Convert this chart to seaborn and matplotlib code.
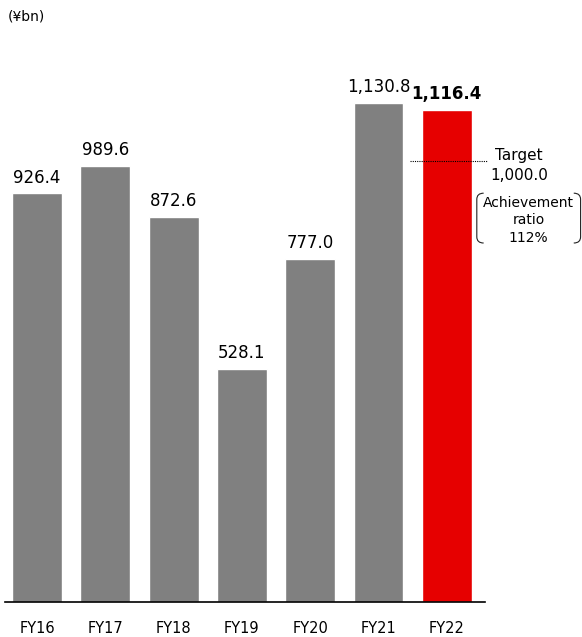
import matplotlib
matplotlib.use("Agg")
import matplotlib.pyplot as plt
from matplotlib.path import Path
from matplotlib.patches import PathPatch
import seaborn as sns

years = ["FY16", "FY17", "FY18", "FY19", "FY20", "FY21", "FY22"]
values = [926.4, 989.6, 872.6, 528.1, 777.0, 1130.8, 1116.4]
labels = ["926.4", "989.6", "872.6", "528.1", "777.0", "1,130.8", "1,116.4"]
target = 1000.0
target_label = "1,000.0"
ratio_label = "112%"

sns.set_theme(style="white")
plt.rcParams["font.family"] = ["DejaVu Sans"]
plt.rcParams["text.color"] = "black"
plt.rcParams["xtick.color"] = "black"

fig = plt.figure(figsize=(5.82, 6.37), dpi=100)
ax = fig.add_axes([5 / 582, 1 - 602 / 637, 480 / 582, 542 / 637])

colors = ["#808080"] * 6 + ["#E60000"]
sns.barplot(x=years, y=values, hue=years, palette=colors, legend=False,
            width=0.73, saturation=1, ax=ax)

ax.set_xlim(-0.47, 6.56)
ax.set_ylim(0, 1229)
for s in ["top", "right", "left"]:
    ax.spines[s].set_visible(False)
ax.spines["bottom"].set_color("black")
ax.spines["bottom"].set_linewidth(1.2)
ax.set_yticks([])
ax.set_xlabel("")
ax.set_ylabel("")
ax.tick_params(axis="x", length=0, pad=14, labelsize=10.5, labelcolor="black")

for i, (v, lab) in enumerate(zip(values, labels)):
    ax.annotate(lab, (i, v), xytext=(0, 5), textcoords="offset points",
                ha="center", va="bottom", fontsize=12, color="black",
                fontweight="bold" if i == len(values) - 1 else "normal")

# target marker beside the latest bar
ax.plot([5.46, 6.59], [target, target], ls=(0, (1, 1)), color="black",
        lw=0.8, clip_on=False)
ax.text(7.06, 1013, "Target", ha="center", va="center", fontsize=11, clip_on=False)
ax.text(7.06, 966, target_label, ha="center", va="center", fontsize=11, clip_on=False)
ax.text(7.2, 905, "Achievement", ha="center", va="center", fontsize=10, clip_on=False)
ax.text(7.2, 866, "ratio", ha="center", va="center", fontsize=10, clip_on=False)
ax.text(7.2, 825, ratio_label, ha="center", va="center", fontsize=10, clip_on=False)

# rounded brackets around the ratio
x0, x1, y0, y1 = 6.44, 7.96, 814, 927
dx, dy = 0.1, 14
left = Path([(x0 + dx, y1), (x0, y1), (x0, y1 - dy), (x0, y0 + dy), (x0, y0), (x0 + dx, y0)],
            [Path.MOVETO, Path.CURVE3, Path.CURVE3, Path.LINETO, Path.CURVE3, Path.CURVE3])
right = Path([(x1 - dx, y1), (x1, y1), (x1, y1 - dy), (x1, y0 + dy), (x1, y0), (x1 - dx, y0)],
             [Path.MOVETO, Path.CURVE3, Path.CURVE3, Path.LINETO, Path.CURVE3, Path.CURVE3])
for p in (left, right):
    ax.add_patch(PathPatch(p, fill=False, lw=0.8, color="#222222", clip_on=False))

fig.text(8 / 582, 1 - 17 / 637, "(¥bn)", ha="left", va="center", fontsize=10)

fig.savefig("out.png", dpi=100, facecolor="white")
